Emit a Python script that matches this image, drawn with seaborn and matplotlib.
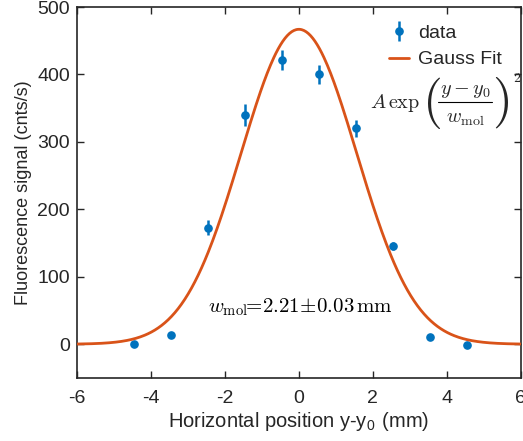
import numpy as np
import pandas as pd
import matplotlib
matplotlib.use("Agg")
import matplotlib.pyplot as plt
from matplotlib.lines import Line2D
import seaborn as sns

# Data
pos = [-4.45, -3.45, -2.45, -1.45, -0.45, 0.55, 1.55, 2.55, 3.55, 4.55]
signal = [1, 13, 173, 340, 421, 400, 320, 146, 10, -1]
err = [3, 4, 11, 16, 15, 14, 12, 6, 3, 3]

# Gaussian fit parameters (A exp(-((y-y0)/w)^2))
fit_A = 467.0
fit_y0 = 0.0
fit_w = 2.21

xticks = [-6, -4, -2, 0, 2, 4, 6]
yticks = [0, 100, 200, 300, 400, 500]

sns.set_theme(style="ticks")
plt.rcParams['font.family'] = ['Liberation Sans', 'DejaVu Sans']
plt.rcParams['mathtext.fontset'] = 'cm'

blue = '#0072BD'
orange = '#D95319'
dark = '#262626'

W, H = 523, 441
fig = plt.figure(figsize=(W / 100, H / 100), dpi=100)
ax = fig.add_axes([0.147, 0.143, 0.849, 0.841])

ax.errorbar(pos, signal, yerr=err, fmt='o', color=blue, ms=5.2, elinewidth=1.8,
            capsize=0, label='data', zorder=2)

xf = np.linspace(-6, 6, 400)
fit_df = pd.DataFrame({'x': xf, 'y': fit_A * np.exp(-((xf - fit_y0) / fit_w) ** 2)})
sns.lineplot(data=fit_df, x='x', y='y', ax=ax, color=orange, lw=2, label='Gauss Fit', zorder=3)

ax.set_xlim(-6, 6)
ax.set_ylim(-50, 500)
ax.set_xticks(xticks)
ax.set_yticks(yticks)
ax.set_xticklabels([str(t) for t in xticks])
ax.set_yticklabels([str(t) for t in yticks])
ax.tick_params(direction='in', top=True, right=True, labelsize=14, colors=dark,
               length=5, width=1)
ax.tick_params(axis='x', pad=9)
ax.tick_params(axis='y', pad=5)
for s in ax.spines.values():
    s.set_color(dark)
    s.set_linewidth(1.2)

ax.set_xlabel(r'Horizontal position y-y$_{\mathregular{0}}$ (mm)', fontsize=14.5, color=dark, labelpad=2)
ax.set_ylabel('Fluorescence signal (cnts/s)', fontsize=13, color=dark, labelpad=4)

handles, labels = ax.get_legend_handles_labels()
order = [labels.index('data'), labels.index('Gauss Fit')]
leg = ax.legend([handles[i] for i in order], [labels[i] for i in order],
                loc='upper right', frameon=False, fontsize=14, handlelength=1.05,
                handletextpad=0.45, borderaxespad=0.3, labelspacing=0.45,
                bbox_to_anchor=(0.988, 0.99))

# Formula annotation, composed piecewise (figure pixel positions)
def fp(px, py):
    return (px / W, 1 - py / H)

tf = fig.transFigure
fs = 14.5
fig.text(*fp(420, 108), r'$A\,\exp$', fontsize=fs, ha='right', va='baseline', transform=tf)
fig.text(*fp(465, 91), r'$y-y_0$', fontsize=fs, ha='center', va='center', transform=tf)
fig.text(*fp(465, 119), r'$w_{\mathrm{mol}}$', fontsize=fs, ha='center', va='center', transform=tf)
fig.add_artist(Line2D([438 / W, 492 / W], [1 - 102 / H, 1 - 102 / H], color='black', lw=0.8,
                      transform=tf))
fig.text(*fp(432, 103), r'$($', fontsize=37, ha='center', va='center', transform=tf)
fig.text(*fp(500, 103), r'$)$', fontsize=37, ha='center', va='center', transform=tf)
fig.text(*fp(517, 78), r'$2$', fontsize=10, ha='center', va='center', transform=tf)

ax.text(0.05, 55, r'$w_{\mathrm{mol}}\!\!=\!2.21\!\pm\!0.03\,\mathrm{mm}$', fontsize=15,
        ha='center', va='center', color='black')

fig.savefig('out.png', dpi=100)
